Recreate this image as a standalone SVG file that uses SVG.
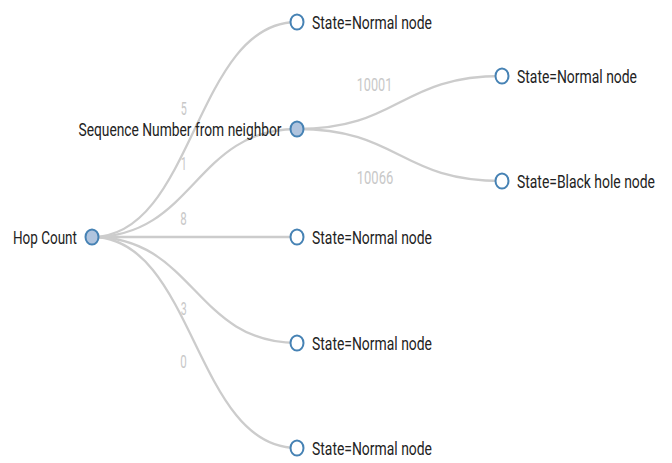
<svg xmlns="http://www.w3.org/2000/svg" width="672" height="463" viewBox="0 0 672 463">
<style>
.link{fill:none;stroke:#cccccc;stroke-width:2.3}
.node ellipse{stroke:#4682b4;stroke-width:2}
.leaf ellipse{fill:#ffffff}
.inner ellipse{fill:#b0c4de}
.lbl{font-family:Roboto,"Liberation Sans",sans-serif;font-size:19px;fill:#222222}
.elbl{font-family:Roboto,"Liberation Sans",sans-serif;font-size:18px;fill:#c8c8c8;text-anchor:middle}
</style>
<rect width="672" height="463" fill="#ffffff"/>
<g id="connectors">
<path class="link" d="M92,237 C194.5,237 194.5,22 297,22"/>
<path class="link" d="M92,237 C194.5,237 194.5,129 297,129"/>
<path class="link" d="M92,237 C194.5,237 194.5,237 297,237"/>
<path class="link" d="M92,237 C194.5,237 194.5,343 297,343"/>
<path class="link" d="M92,237 C194.5,237 194.5,448 297,448"/>
<path class="link" d="M297,129 C399.5,129 399.5,76 502,76"/>
<path class="link" d="M297,129 C399.5,129 399.5,181 502,181"/>
<text class="elbl" x="183.7" y="115" textLength="6" lengthAdjust="spacingAndGlyphs">5</text>
<text class="elbl" x="183.7" y="170" textLength="6" lengthAdjust="spacingAndGlyphs">1</text>
<text class="elbl" x="183.5" y="225" textLength="6.5" lengthAdjust="spacingAndGlyphs">8</text>
<text class="elbl" x="183.7" y="315" textLength="6" lengthAdjust="spacingAndGlyphs">3</text>
<text class="elbl" x="183.5" y="368" textLength="6.5" lengthAdjust="spacingAndGlyphs">0</text>
<text class="elbl" x="374.5" y="91" textLength="35.5" lengthAdjust="spacingAndGlyphs">10001</text>
<text class="elbl" x="375" y="184" textLength="36.5" lengthAdjust="spacingAndGlyphs">10066</text>
</g>
<g id="node-hop" class="node inner">
<ellipse cx="92" cy="237" rx="6.5" ry="7.5"/>
<text class="lbl" transform="translate(13,244) scale(0.7,1)" textLength="91.4" lengthAdjust="spacingAndGlyphs">Hop Count</text>
</g>
<g id="node-c1" class="node leaf">
<ellipse cx="297" cy="22" rx="6.5" ry="7.5"/>
<text class="lbl" transform="translate(312,29) scale(0.7,1)" textLength="171.4" lengthAdjust="spacingAndGlyphs">State=Normal node</text>
</g>
<g id="node-seq" class="node inner">
<ellipse cx="297" cy="129" rx="6.5" ry="7.5"/>
<text class="lbl" transform="translate(78.5,136) scale(0.7,1)" textLength="290" lengthAdjust="spacingAndGlyphs">Sequence Number from neighbor</text>
</g>
<g id="node-c3" class="node leaf">
<ellipse cx="297" cy="237" rx="6.5" ry="7.5"/>
<text class="lbl" transform="translate(312,244) scale(0.7,1)" textLength="171.4" lengthAdjust="spacingAndGlyphs">State=Normal node</text>
</g>
<g id="node-c4" class="node leaf">
<ellipse cx="297" cy="343" rx="6.5" ry="7.5"/>
<text class="lbl" transform="translate(312,350) scale(0.7,1)" textLength="171.4" lengthAdjust="spacingAndGlyphs">State=Normal node</text>
</g>
<g id="node-c5" class="node leaf">
<ellipse cx="297" cy="448" rx="6.5" ry="7.5"/>
<text class="lbl" transform="translate(312,455) scale(0.7,1)" textLength="171.4" lengthAdjust="spacingAndGlyphs">State=Normal node</text>
</g>
<g id="node-g1" class="node leaf">
<ellipse cx="502" cy="76" rx="6.5" ry="7.5"/>
<text class="lbl" transform="translate(517,83) scale(0.7,1)" textLength="171.4" lengthAdjust="spacingAndGlyphs">State=Normal node</text>
</g>
<g id="node-g2" class="node leaf">
<ellipse cx="502" cy="181" rx="6.5" ry="7.5"/>
<text class="lbl" transform="translate(517,188) scale(0.7,1)" textLength="197.1" lengthAdjust="spacingAndGlyphs">State=Black hole node</text>
</g>
</svg>
